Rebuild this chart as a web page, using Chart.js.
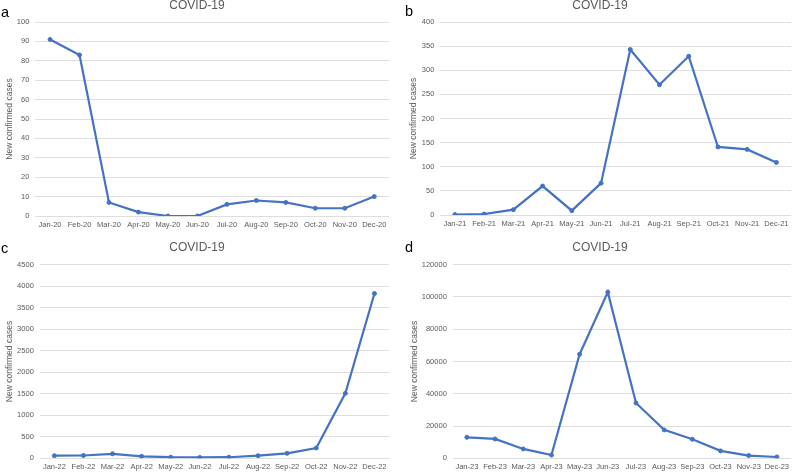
<!DOCTYPE html>
<html>
<head>
<meta charset="utf-8">
<script src="https://cdn.jsdelivr.net/npm/chart.js@4.4.1/dist/chart.umd.min.js"></script>
<style>
  body { margin: 0; background: #fff; }
  #wrap { position: relative; width: 794px; height: 472px; }
  canvas { position: absolute; }
</style>
</head>
<body>
<div id="wrap">
  <canvas id="chart-a" width="397" height="236" style="left:0;top:0"></canvas>
  <canvas id="chart-b" width="397" height="236" style="left:397px;top:0"></canvas>
  <canvas id="chart-c" width="397" height="236" style="left:0;top:236px"></canvas>
  <canvas id="chart-d" width="397" height="236" style="left:397px;top:236px"></canvas>
</div>
<script>
// month labels for each year
const months2020 = ["Jan-20", "Feb-20", "Mar-20", "Apr-20", "May-20", "Jun-20", "Jul-20", "Aug-20", "Sep-20", "Oct-20", "Nov-20", "Dec-20"];
const months2021 = ["Jan-21", "Feb-21", "Mar-21", "Apr-21", "May-21", "Jun-21", "Jul-21", "Aug-21", "Sep-21", "Oct-21", "Nov-21", "Dec-21"];
const months2022 = ["Jan-22", "Feb-22", "Mar-22", "Apr-22", "May-22", "Jun-22", "Jul-22", "Aug-22", "Sep-22", "Oct-22", "Nov-22", "Dec-22"];
const months2023 = ["Jan-23", "Feb-23", "Mar-23", "Apr-23", "May-23", "Jun-23", "Jul-23", "Aug-23", "Sep-23", "Oct-23", "Nov-23", "Dec-23"];

// new confirmed cases per month
const cases2020 = [91, 83, 7, 2, 0, 0, 6, 8, 7, 4, 4, 10];
const cases2021 = [1, 2, 11, 60, 9, 66, 343, 270, 329, 141, 136, 109];
const cases2022 = [60, 65, 105, 45, 25, 20, 25, 60, 115, 240, 1510, 3830];
const cases2023 = [13000, 12000, 5800, 2000, 64500, 103000, 34300, 17600, 11800, 4600, 1700, 800];

// y axis ranges
const yMax = [100, 400, 4500, 120000];
const yStep = [10, 50, 500, 20000];

const blue = "#4472C4";
const grey = "#595959";

// panel letter + "COVID-19" title
const panelText = {
  id: "panelText",
  afterDraw(chart, args, opts) {
    const ctx = chart.ctx;
    ctx.save();
    ctx.textBaseline = "middle";
    ctx.textAlign = "left";
    ctx.fillStyle = "#000";
    ctx.font = "14.5px 'Liberation Sans', Arial, sans-serif";
    ctx.fillText(opts.letter, opts.letterX, opts.letterY);
    ctx.textAlign = "center";
    ctx.fillStyle = grey;
    ctx.font = "12px 'Liberation Sans', Arial, sans-serif";
    ctx.fillText("COVID-19", opts.titleX, opts.titleY);
    ctx.restore();
  }
};

function createChart(id, labels, values, max, step, box, text) {
  const ctx = document.getElementById(id).getContext("2d");
  new Chart(ctx, {
    type: "line",
    data: {
      labels: labels,
      datasets: [{
        data: values,
        borderColor: blue,
        backgroundColor: blue,
        borderWidth: 2.2,
        pointRadius: 2,
        pointBorderWidth: 1,
        pointHoverRadius: 2,
        tension: 0
      }]
    },
    options: {
      responsive: false,
      animation: false,
      layout: { padding: { left: box.padLeft, right: box.padRight, top: box.top, bottom: 0 } },
      plugins: {
        legend: { display: false },
        tooltip: { enabled: false },
        panelText: text
      },
      scales: {
        x: {
          offset: true,
          grid: { display: false, drawTicks: false },
          border: { display: false },
          ticks: {
            color: grey,
            padding: 4,
            maxRotation: 0,
            autoSkip: false,
            font: { family: "'Liberation Sans', Arial, sans-serif", size: 7.5 }
          },
          afterFit(scale) { scale.height = box.xHeight; }
        },
        y: {
          min: 0,
          max: max,
          grid: { color: "#dedede", lineWidth: 1, drawTicks: false },
          border: { display: false },
          ticks: {
            stepSize: step,
            color: grey,
            padding: 6,
            font: { family: "'Liberation Sans', Arial, sans-serif", size: 7.5 },
            callback: (v) => String(v)
          },
          title: {
            display: true,
            text: "New confirmed cases",
            color: grey,
            padding: { top: 0, bottom: 0 },
            font: { family: "'Liberation Sans', Arial, sans-serif", size: 8.5 }
          },
          afterFit(scale) { scale.width = box.yWidth; }
        }
      }
    },
    plugins: [panelText]
  });
}

createChart("chart-a", months2020, cases2020, yMax[0], yStep[0],
  { padLeft: 4.5, padRight: 8, top: 22, xHeight: 20, yWidth: 30.8 },
  { letter: "a", letterX: 1, letterY: 13, titleX: 197, titleY: 6 });
createChart("chart-b", months2021, cases2021, yMax[1], yStep[1],
  { padLeft: 11.5, padRight: 0, top: 22, xHeight: 21, yWidth: 31.8 },
  { letter: "b", letterX: 8, letterY: 12, titleX: 203, titleY: 6 });
createChart("chart-c", months2022, cases2022, yMax[2], yStep[2],
  { padLeft: 4.5, padRight: 8, top: 28.7, xHeight: 13.7, yWidth: 35.3 },
  { letter: "c", letterX: 1, letterY: 13, titleX: 197, titleY: 12 });
createChart("chart-d", months2023, cases2023, yMax[3], yStep[3],
  { padLeft: 12.5, padRight: 0, top: 28.7, xHeight: 13.7, yWidth: 43.3 },
  { letter: "d", letterX: 8, letterY: 12, titleX: 203, titleY: 12 });
</script>
</body>
</html>
